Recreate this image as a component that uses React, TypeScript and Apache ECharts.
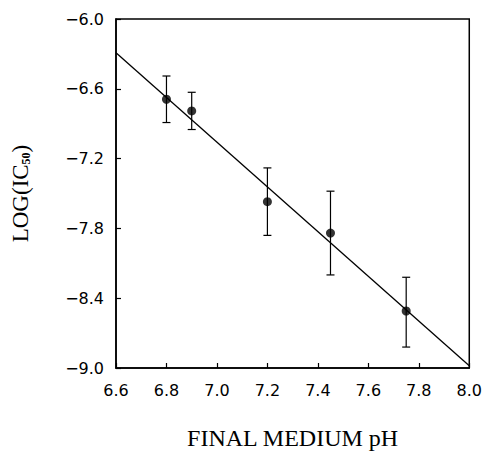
import React, { useEffect, useRef } from "react";
import * as echarts from "echarts";

const phValues = [6.8, 6.9, 7.2, 7.45, 7.75];
const logIC50 = [-6.69, -6.79, -7.57, -7.84, -8.51];
const errLow = [-6.89, -6.95, -7.86, -8.2, -8.82];
const errHigh = [-6.49, -6.63, -7.28, -7.48, -8.22];
const fitLine = [
  [6.6, -6.29],
  [8.0, -8.98],
];

export default function App() {
  const ref = useRef<HTMLDivElement>(null);
  useEffect(() => {
    if (!ref.current) return;
    const chart = echarts.init(ref.current, undefined, { renderer: "svg" });
    const points = phValues.map((x, i) => [x, logIC50[i]]);
    const errs = phValues.map((x, i) => [x, errLow[i], errHigh[i]]);
    chart.setOption({
      animation: false,
      backgroundColor: "#ffffff",
      grid: {
        left: 116,
        right: 13,
        top: 19,
        bottom: 82,
        show: true,
        borderColor: "#000",
        borderWidth: 1.5,
        backgroundColor: "transparent",
      },
      xAxis: {
        type: "value",
        min: 6.6,
        max: 8.0,
        interval: 0.2,
        name: "FINAL MEDIUM pH",
        nameLocation: "middle",
        nameGap: 58,
        nameTextStyle: {
          fontFamily: "Liberation Serif",
          fontSize: 24,
          color: "#000",
        },
        axisLine: { lineStyle: { color: "#000", width: 1.5 } },
        axisTick: { inside: true, length: 5, lineStyle: { color: "#000", width: 1.2 } },
        splitLine: { show: false },
        axisLabel: {
          margin: 14,
          fontFamily: "DejaVu Sans",
          fontSize: 16,
          color: "#000",
          formatter: (v: number) => v.toFixed(1),
        },
      },
      yAxis: {
        type: "value",
        min: -9.0,
        max: -6.0,
        interval: 0.6,
        name: "{a|LOG(IC}{s|50}{a|)}",
        nameLocation: "middle",
        nameGap: 84,
        nameRotate: 90,
        nameTextStyle: {
          fontFamily: "Liberation Serif",
          color: "#000",
          rich: {
            a: { fontFamily: "Liberation Serif", fontSize: 23, color: "#000", lineHeight: 26, verticalAlign: "bottom" },
            s: { fontFamily: "Liberation Serif", fontSize: 12, fontWeight: "bold", color: "#000", lineHeight: 26, verticalAlign: "bottom" },
          },
        },
        axisLine: { show: true, lineStyle: { color: "#000", width: 1.5 } },
        axisTick: { show: true, inside: true, length: 5, lineStyle: { color: "#000", width: 1.2 } },
        splitLine: { show: false },
        axisLabel: {
          margin: 12,
          fontFamily: "DejaVu Sans",
          fontSize: 16,
          color: "#000",
          formatter: (v: number) => (v < 0 ? "\u2212" + Math.abs(v).toFixed(1) : v.toFixed(1)),
        },
      },
      series: [
        {
          type: "line",
          data: fitLine,
          symbol: "none",
          lineStyle: { color: "#000", width: 1.3 },
          z: 2,
        },
        {
          type: "custom",
          data: errs,
          renderItem: (params: any, api: any) => {
            const x = api.value(0);
            const lo = api.coord([x, api.value(1)]);
            const hi = api.coord([x, api.value(2)]);
            const w = 4;
            const style = { stroke: "#000", lineWidth: 1.2 };
            return {
              type: "group",
              children: [
                { type: "line", shape: { x1: lo[0], y1: lo[1], x2: hi[0], y2: hi[1] }, style },
                { type: "line", shape: { x1: lo[0] - w, y1: lo[1], x2: lo[0] + w, y2: lo[1] }, style },
                { type: "line", shape: { x1: hi[0] - w, y1: hi[1], x2: hi[0] + w, y2: hi[1] }, style },
              ],
            };
          },
          z: 3,
        },
        {
          type: "scatter",
          data: points,
          symbol: "circle",
          symbolSize: 9,
          itemStyle: { color: "#000" },
          z: 4,
        },
      ],
    });
    return () => chart.dispose();
  }, []);
  return (
    <div
      ref={ref}
      style={{ position: "absolute", left: 0, top: 0, width: 485, height: 455, overflow: "hidden" }}
    />
  );
}
